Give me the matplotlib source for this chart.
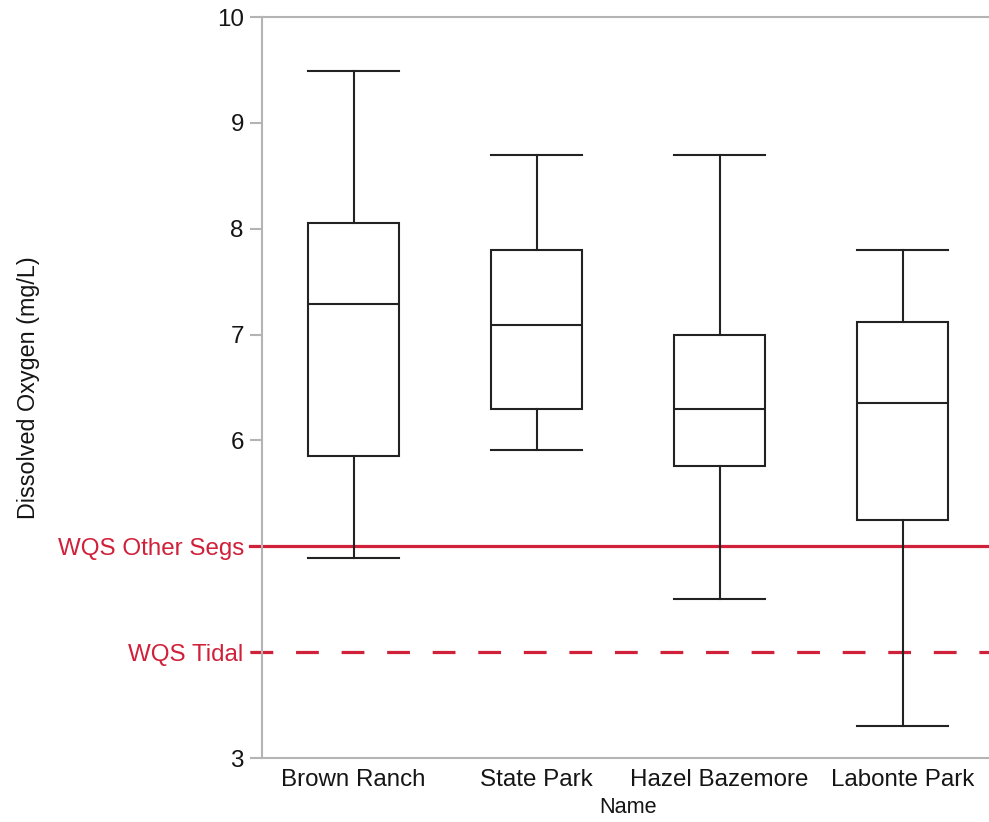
import matplotlib
matplotlib.use("Agg")
import matplotlib.pyplot as plt

plt.rcParams['font.family'] = ['Liberation Sans', 'DejaVu Sans']
plt.rcParams['lines.scale_dashes'] = False

names = ["Brown Ranch", "State Park", "Hazel Bazemore", "Labonte Park"]
whislo = [4.89, 5.91, 4.50, 3.30]
q1 = [5.85, 6.30, 5.76, 5.25]
med = [7.29, 7.09, 6.30, 6.35]
q3 = [8.05, 7.80, 7.00, 7.12]
whishi = [9.49, 8.70, 8.70, 7.80]

wqs_values = [5.0, 4.0]
wqs_labels = ["WQS Other Segs", "WQS Tidal"]
wqs_styles = ["-", (0, (16.4, 16.4))]
num_ticks = [3, 6, 7, 8, 9, 10]

red = "#d0203a"
gray = "#b4b4b4"
box_col = "#222222"
txt = "#151515"

fig = plt.figure(figsize=(9.89, 8.22), dpi=100)
ax_w_px = 994 - 262
ax = fig.add_axes([262/989, 1-758/822, ax_w_px/989, (758-17)/822])

stats = []
for i, n in enumerate(names):
    stats.append(dict(label=n, whislo=whislo[i], q1=q1[i], med=med[i],
                      q3=q3[i], whishi=whishi[i], fliers=[]))

ax.bxp(stats, positions=range(len(names)), widths=0.5, capwidths=0.5,
       showfliers=False, patch_artist=True,
       boxprops=dict(facecolor="white", edgecolor=box_col, linewidth=1.5),
       medianprops=dict(color=box_col, linewidth=1.5),
       whiskerprops=dict(color=box_col, linewidth=1.5),
       capprops=dict(color=box_col, linewidth=1.5), zorder=3)

tick_len_px = 12
for v, s in zip(wqs_values, wqs_styles):
    ax.axhline(v, xmin=-tick_len_px/ax_w_px, xmax=1, color=red,
               linewidth=2.3, linestyle=s, zorder=2, clip_on=False)

ax.set_xlim(-0.5, 3.5)
ax.set_ylim(3, 10)

ticks = num_ticks + wqs_values
labels = [str(t) for t in num_ticks] + wqs_labels
ax.set_yticks(ticks)
ax.set_yticklabels(labels)
ax.tick_params(axis='y', length=tick_len_px*0.72, width=1.5, color=gray, pad=4.5,
               labelsize=17.4, labelcolor=txt)
ax.tick_params(axis='x', length=0, pad=8, labelsize=17.4, labelcolor=txt)
for lab in ax.get_yticklabels():
    if lab.get_text() in wqs_labels:
        lab.set_color(red)

for sp in ['left', 'top', 'bottom']:
    ax.spines[sp].set_color(gray)
    ax.spines[sp].set_linewidth(1.5)
ax.spines['right'].set_visible(False)

ax.set_ylabel("Dissolved Oxygen (mg/L)", fontsize=16.8, color=txt)
ax.yaxis.set_label_coords((40-262)/ax_w_px, 0.5)
ax.set_xlabel("Name", fontsize=15.6, color=txt)
ax.xaxis.set_label_coords(0.5, -(807-758)/741)
ax.xaxis.label.set_va('center')

fig.savefig("out.png", dpi=100)
